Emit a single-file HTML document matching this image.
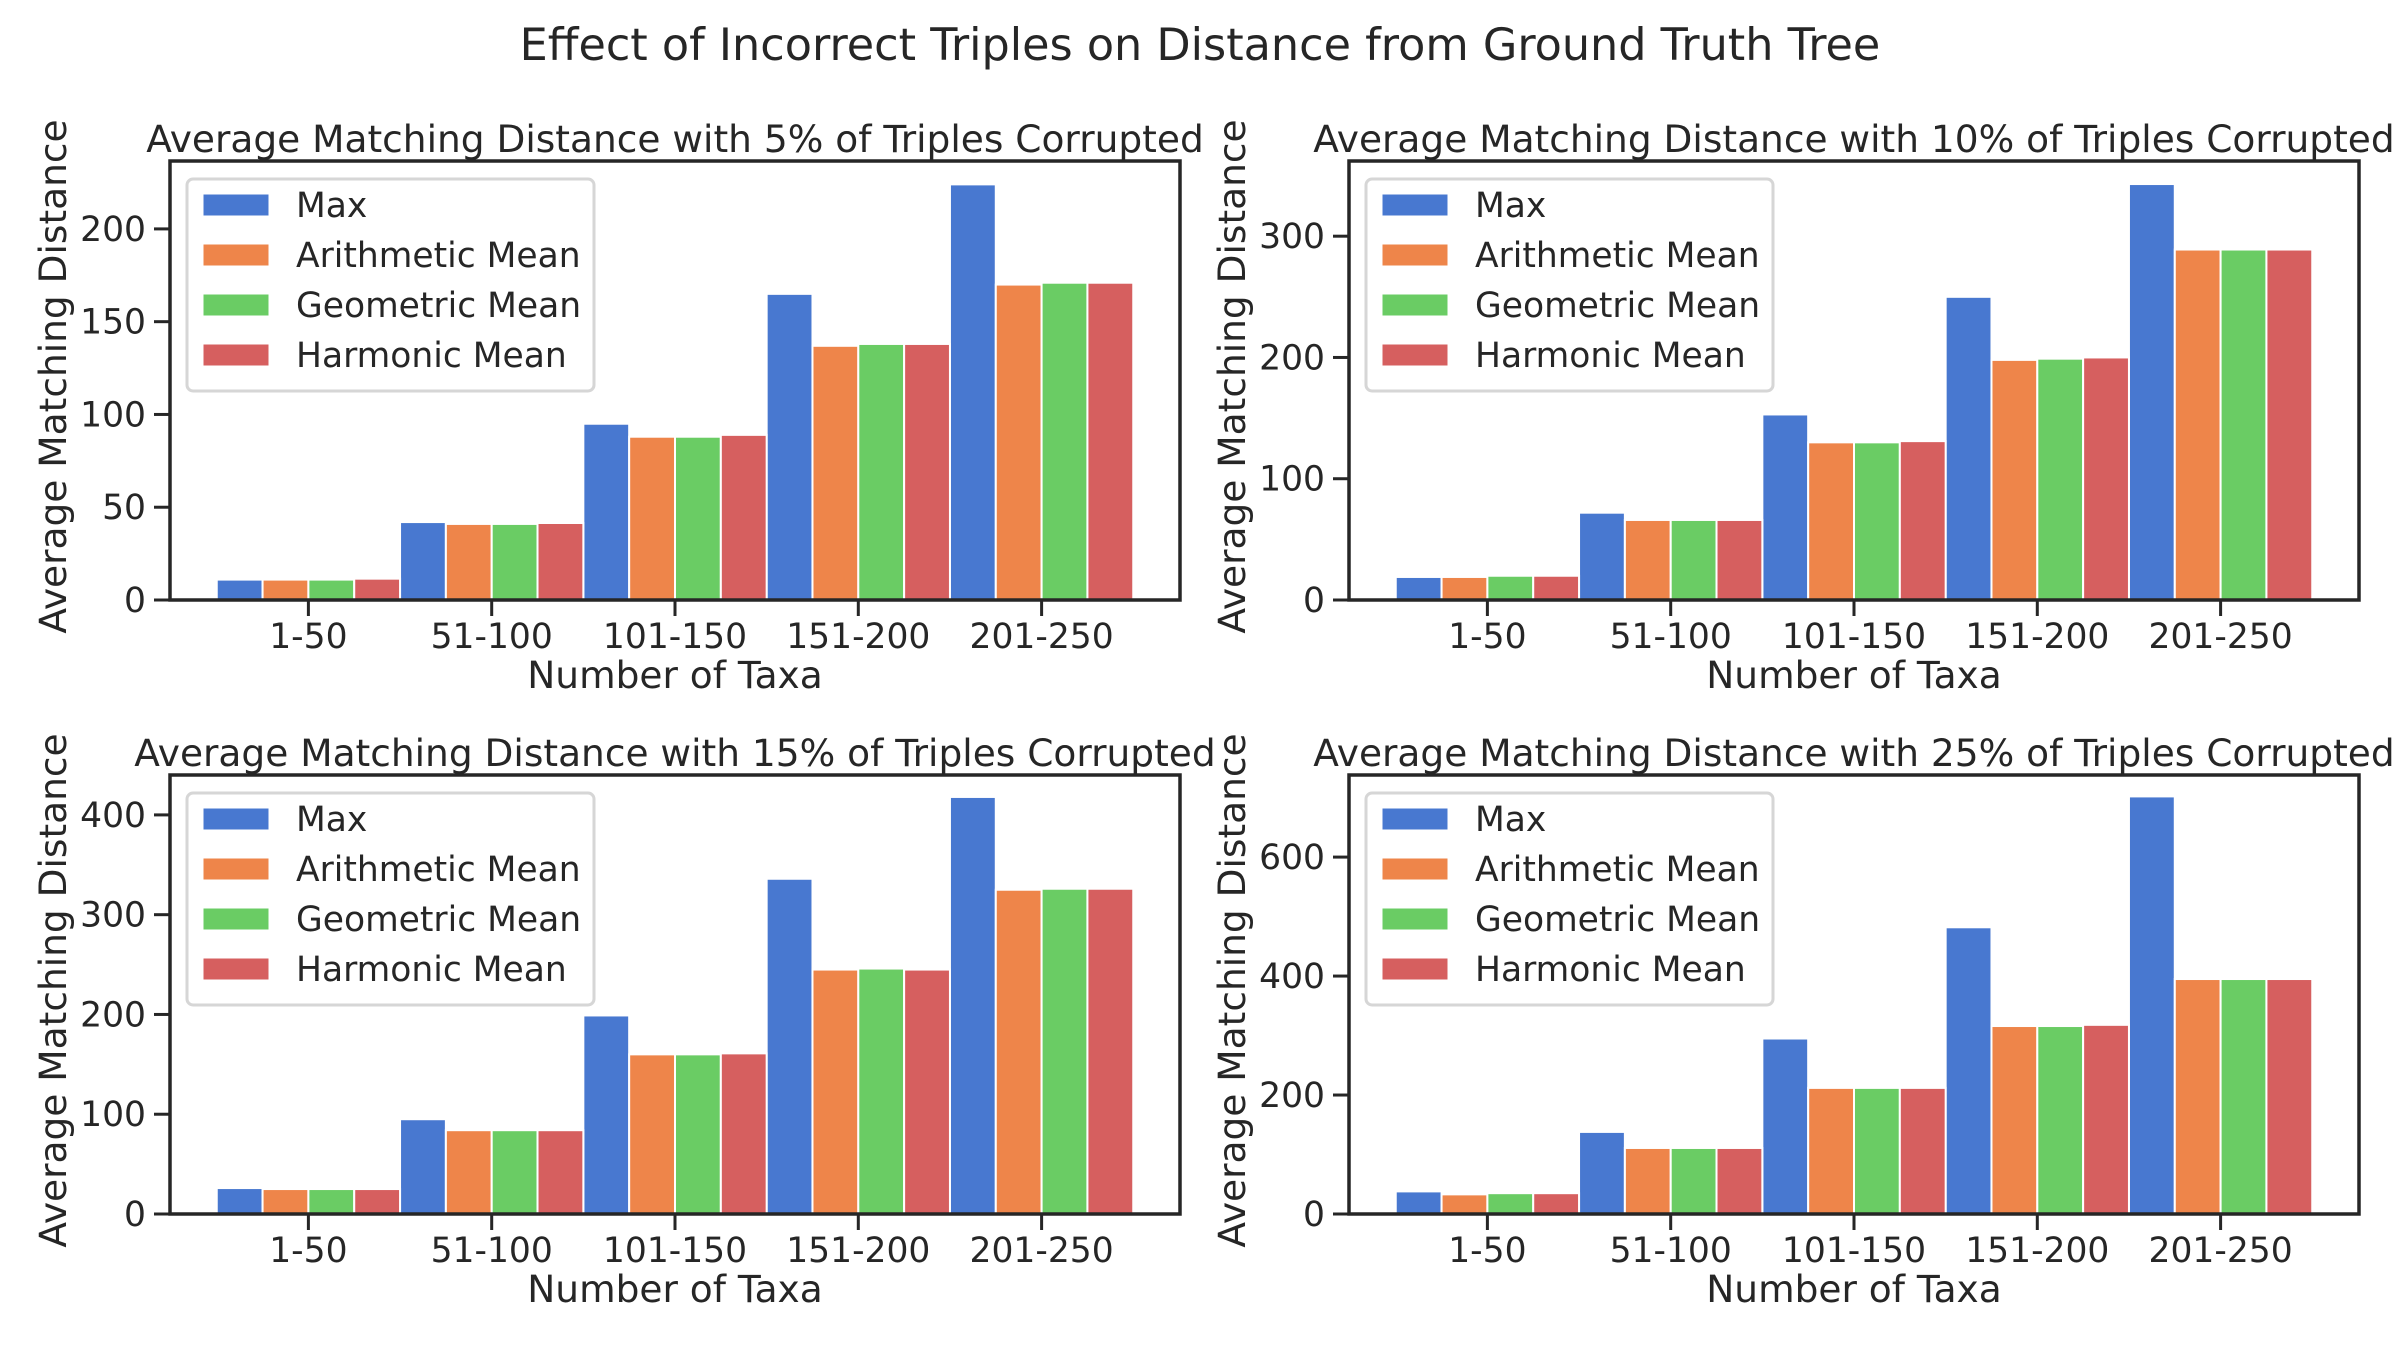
<!DOCTYPE html>
<html><head><meta charset="utf-8">
<style>
html,body{margin:0;padding:0;background:#fff;}
svg{display:block;font-family:"DejaVu Sans","Liberation Sans",sans-serif;}
</style></head>
<body>
<svg id="fig" width="2400" height="1350" viewBox="0 0 2400 1350" xmlns="http://www.w3.org/2000/svg">
<text x="1200" y="60" font-size="44.5" fill="#262626" text-anchor="middle">Effect of Incorrect Triples on Distance from Ground Truth Tree</text>
</svg>
<script>
const categories = ["1-50","51-100","101-150","151-200","201-250"];
const seriesNames = ["Max","Arithmetic Mean","Geometric Mean","Harmonic Mean"];
const colors = ["#4878d0","#ee854a","#6acc64","#d65f5f"];
const pct5_max = [11, 42, 95, 165, 224];
const pct5_arith = [11, 41, 88, 137, 170];
const pct5_geo = [11, 41, 88, 138, 171];
const pct5_harm = [11.5, 41.5, 89, 138, 171];
const pct10_max = [19, 72, 153, 250, 343];
const pct10_arith = [19, 66, 130, 198, 289];
const pct10_geo = [20, 66, 130, 199, 289];
const pct10_harm = [20, 66, 131, 200, 289];
const pct15_max = [26, 95, 199, 336, 418];
const pct15_arith = [25, 84, 160, 245, 325];
const pct15_geo = [25, 84, 160, 246, 326];
const pct15_harm = [25, 84, 161, 245, 326];
const pct25_max = [38, 138, 295, 482, 702];
const pct25_arith = [33, 111, 212, 316, 395];
const pct25_geo = [35, 111, 212, 316, 395];
const pct25_harm = [35, 111, 212, 318, 395];
const ticks5 = [0, 50, 100, 150, 200];
const ticks10 = [0, 100, 200, 300];
const ticks15 = [0, 100, 200, 300, 400];
const ticks25 = [0, 200, 400, 600];
const ymax5 = 236.6, ymax10 = 362, ymax15 = 440, ymax25 = 738;

const NS = "http://www.w3.org/2000/svg";
const svg = document.getElementById("fig");
function mk(tag, attrs, parent, txt){
  const e = document.createElementNS(NS, tag);
  for (const k in attrs) e.setAttribute(k, attrs[k]);
  if (txt !== undefined) e.textContent = txt;
  (parent || svg).appendChild(e);
  return e;
}
function panel(L, T, title, series, ticks, ymax, key){
  const W = 1010, H = 439, B = T + H;
  const g = mk("g", {});
  
  
  const xs = v => L + (v + 0.755) / 5.51 * W;
  const ys = v => B - v / ymax * H;
  const tt = mk("text", {x: L + W/2, y: T - 9, "font-size": 37.5, fill: "#262626", "text-anchor": "middle"}, g, title);
  
  
  series.forEach((vals, j) => {
    vals.forEach((v, i) => {
      const x0 = xs(i - 0.375 + j * 0.25 - 0.125);
      const x1 = xs(i - 0.375 + j * 0.25 + 0.125);
      const r = mk("rect", {x: x0, y: ys(v), width: x1 - x0, height: B - ys(v), fill: colors[j], stroke: "#fff", "stroke-width": 2}, g);
      
      
    });
  });
  const fr = mk("rect", {x: L, y: T, width: W, height: H, fill: "none", stroke: "#262626", "stroke-width": 3.5}, g);
  
  
  ticks.forEach(t => {
    const y = ys(t);
    mk("line", {x1: L - 16, x2: L, y1: y, y2: y, stroke: "#262626", "stroke-width": 3}, g);
    const lb = mk("text", {x: L - 24, y: y + 12, "font-size": 34.5, fill: "#262626", "text-anchor": "end"}, g, String(t));
    
    
  });
  categories.forEach((c, i) => {
    const x = xs(i);
    mk("line", {x1: x, x2: x, y1: B, y2: B + 16, stroke: "#262626", "stroke-width": 3}, g);
    const lb = mk("text", {x: x, y: B + 48, "font-size": 34.5, fill: "#262626", "text-anchor": "middle"}, g, c);
    
    
  });
  const xl = mk("text", {x: L + W/2, y: B + 88, "font-size": 37.5, fill: "#262626", "text-anchor": "middle"}, g, "Number of Taxa");
  
  
  const yx = L - 104, yc = T + H/2 - 4;
  const yl = mk("text", {x: yx, y: yc, "font-size": 37.5, fill: "#262626", "text-anchor": "middle", transform: "rotate(-90 " + yx + " " + yc + ")"}, g, "Average Matching Distance");
  
  
  const lg = mk("g", {}, g);
  
  
  mk("rect", {x: L + 17, y: T + 18, width: 407, height: 212, rx: 6, fill: "#fff", "fill-opacity": 0.85, stroke: "#d6d6d6", "stroke-width": 3}, lg);
  seriesNames.forEach((n, j) => {
    const cy = T + 44 + j * 50;
    const e = mk("g", {}, lg);
    
    
    mk("rect", {x: L + 33, y: cy - 11, width: 66, height: 22, fill: colors[j], stroke: "#fff", "stroke-width": 1}, e);
    mk("text", {x: L + 126, y: cy + 12, "font-size": 34.5, fill: "#262626"}, e, n);
  });
}
panel(170, 161, "Average Matching Distance with 5% of Triples Corrupted", [pct5_max, pct5_arith, pct5_geo, pct5_harm], ticks5, ymax5, "5pct");
panel(1349, 161, "Average Matching Distance with 10% of Triples Corrupted", [pct10_max, pct10_arith, pct10_geo, pct10_harm], ticks10, ymax10, "10pct");
panel(170, 775, "Average Matching Distance with 15% of Triples Corrupted", [pct15_max, pct15_arith, pct15_geo, pct15_harm], ticks15, ymax15, "15pct");
panel(1349, 775, "Average Matching Distance with 25% of Triples Corrupted", [pct25_max, pct25_arith, pct25_geo, pct25_harm], ticks25, ymax25, "25pct");
</script>
</body></html>
